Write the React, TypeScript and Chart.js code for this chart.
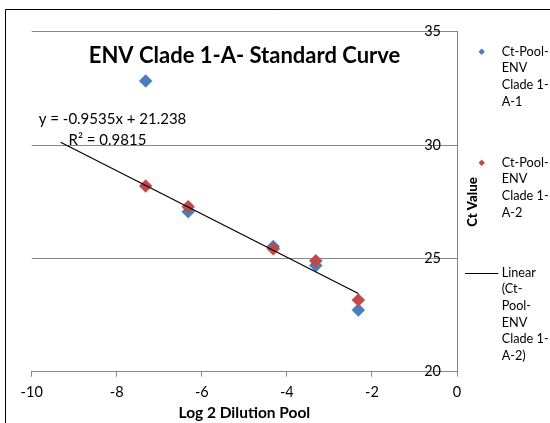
import React, { useEffect, useRef } from 'react';
import { Chart, registerables } from 'chart.js';

Chart.register(...registerables);

// ---- data ----
const X_VALUES = [-7.32, -6.32, -4.32, -3.32, -2.32];
const SERIES_A1 = [32.83, 27.06, 25.52, 24.68, 22.72];
const SERIES_A2 = [28.19, 27.28, 25.42, 24.89, 23.16];
const TREND_SLOPE = -0.9535;
const TREND_INTERCEPT = 21.238;
const TREND_X_RANGE = [-9.32, -2.32];
const X_TICKS = [-10, -8, -6, -4, -2, 0];
const Y_TICKS = [20, 25, 30, 35];
const SERIES_LABELS = [
  'Ct-Pool-ENV Clade 1-A-1',
  'Ct-Pool-ENV Clade 1-A-2',
  'Linear (Ct-Pool-ENV Clade 1-A-2)',
];
const LEGEND_LINES = [
  ['Ct-Pool-', 'ENV', 'Clade 1-', 'A-1'],
  ['Ct-Pool-', 'ENV', 'Clade 1-', 'A-2'],
  ['Linear', '(Ct-', 'Pool-', 'ENV', 'Clade 1-', 'A-2)'],
];
const TITLE = 'ENV Clade 1-A- Standard Curve';
const X_TITLE = 'Log 2 Dilution Pool';
const Y_TITLE = 'Ct Value';
const EQUATION_LINES = ['y = -0.9535x + 21.238', 'R² = 0.9815'];

const BLUE = '#4A7EBB';
const RED = '#BE4B48';
const GRID = '#868686';
const FONT = 'Lato';

const decorPlugin = {
  id: 'decor',
  beforeDraw(chart: any) {
    const ctx = chart.ctx;
    ctx.save();
    ctx.fillStyle = '#ffffff';
    ctx.fillRect(0, 0, chart.width, chart.height);
    ctx.strokeStyle = '#000000';
    ctx.lineWidth = 1;
    ctx.beginPath();
    ctx.moveTo(5.5, chart.height);
    ctx.lineTo(5.5, 9.5);
    ctx.lineTo(chart.width, 9.5);
    ctx.stroke();
    ctx.restore();
  },
  afterDraw(chart: any) {
    const ctx = chart.ctx;
    ctx.save();
    ctx.fillStyle = '#000000';
    // chart title
    ctx.textAlign = 'center';
    ctx.textBaseline = 'alphabetic';
    ctx.font = `bold 22px ${FONT}`;
    ctx.fillText(TITLE, 244.5, 62.5);
    // trendline equation
    ctx.font = `15px ${FONT}`;
    ctx.fillText(EQUATION_LINES[0], 112.5, 124);
    ctx.fillText(EQUATION_LINES[1], 107.5, 144.5);
    // y axis title
    ctx.save();
    ctx.translate(477.3, 202);
    ctx.rotate(-Math.PI / 2);
    ctx.font = `900 13.2px ${FONT}`;
    ctx.fillText(Y_TITLE, 0, 0);
    ctx.restore();
    // legend
    const starts = [51.7, 162.7, 272.7];
    const lh = 16.67;
    const colors = [BLUE, RED];
    LEGEND_LINES.forEach((lines, i) => {
      const y0 = starts[i];
      if (i < 2) {
        const r = 3.2;
        ctx.fillStyle = colors[i];
        ctx.beginPath();
        ctx.moveTo(481.7, y0 - r);
        ctx.lineTo(481.7 + r, y0);
        ctx.lineTo(481.7, y0 + r);
        ctx.lineTo(481.7 - r, y0);
        ctx.closePath();
        ctx.fill();
      } else {
        ctx.strokeStyle = '#000000';
        ctx.lineWidth = 1;
        ctx.beginPath();
        ctx.moveTo(465, Math.round(y0) + 0.5);
        ctx.lineTo(498.3, Math.round(y0) + 0.5);
        ctx.stroke();
      }
      ctx.fillStyle = '#000000';
      ctx.font = `12.7px ${FONT}`;
      ctx.textAlign = 'left';
      ctx.textBaseline = 'middle';
      lines.forEach((t, j) => ctx.fillText(t, 501.7, y0 + j * lh));
    });
    ctx.restore();
  },
};

export default function App() {
  const canvasRef = useRef<HTMLCanvasElement | null>(null);

  useEffect(() => {
    if (!canvasRef.current) return;
    const trendData = TREND_X_RANGE.map((x) => ({ x, y: TREND_SLOPE * x + TREND_INTERCEPT }));
    const chart = new Chart(canvasRef.current, {
      type: 'scatter',
      data: {
        datasets: [
          {
            label: SERIES_LABELS[2],
            data: trendData,
            showLine: true,
            borderColor: '#000000',
            borderWidth: 1.2,
            pointRadius: 0,
            order: 0,
          },
          {
            label: SERIES_LABELS[1],
            data: X_VALUES.map((x, i) => ({ x, y: SERIES_A2[i] })),
            pointStyle: 'rectRot',
            pointRadius: 6.5,
            backgroundColor: RED,
            borderColor: RED,
            borderWidth: 0.5,
            order: 1,
          },
          {
            label: SERIES_LABELS[0],
            data: X_VALUES.map((x, i) => ({ x, y: SERIES_A1[i] })),
            pointStyle: 'rectRot',
            pointRadius: 6.5,
            backgroundColor: BLUE,
            borderColor: BLUE,
            borderWidth: 0.5,
            order: 2,
          },
        ],
      },
      options: {
        responsive: false,
        animation: false,
        events: [],
        layout: { padding: { left: 31.7, top: 31.7, right: 93, bottom: 0 } },
        plugins: { legend: { display: false }, title: { display: false }, tooltip: { enabled: false } },
        scales: {
          x: {
            type: 'linear',
            position: 'bottom',
            min: -10,
            max: 0,
            afterBuildTicks: (scale: any) => {
              scale.ticks = X_TICKS.map((v) => ({ value: v }));
            },
            afterFit: (scale: any) => {
              scale.height = 51.3;
            },
            grid: {
              drawOnChartArea: false,
              drawTicks: true,
              tickLength: 5,
              color: GRID,
            },
            border: { display: true, color: GRID, width: 1 },
            ticks: {
              color: '#000000',
              font: { family: FONT, size: 14.5 },
              padding: 7.3,
              maxRotation: 0,
              autoSkip: false,
            },
            title: {
              display: true,
              text: X_TITLE,
              color: '#000000',
              font: { family: FONT, size: 15.5, weight: 'bold' },
              padding: { top: 0, bottom: 1.2 },
            },
          },
          y: {
            type: 'linear',
            position: 'right',
            min: 20,
            max: 35,
            afterBuildTicks: (scale: any) => {
              scale.ticks = Y_TICKS.map((v) => ({ value: v }));
            },
            afterFit: (scale: any) => {
              scale.width = 0;
            },
            grid: {
              drawOnChartArea: true,
              drawTicks: false,
              color: GRID,
            },
            border: { display: true, color: GRID, width: 1 },
            ticks: {
              mirror: true,
              padding: -16,
              color: '#000000',
              font: { family: FONT, size: 14.5 },
              autoSkip: false,
            },
          },
        },
      },
      plugins: [decorPlugin],
    });
    return () => chart.destroy();
  }, []);

  return (
    <div style={{ position: 'absolute', left: 0, top: 0, width: 550, height: 423 }}>
      <canvas ref={canvasRef} width={550} height={423} style={{ display: 'block' }} />
    </div>
  );
}
